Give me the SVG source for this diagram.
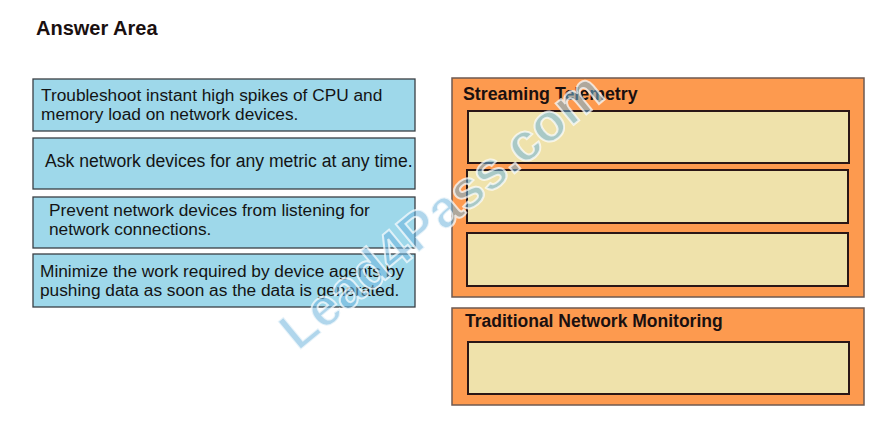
<svg xmlns="http://www.w3.org/2000/svg" width="894" height="429" viewBox="0 0 894 429">
<style>
.bg{fill:#ffffff}
.item{fill:#9ed8ea;stroke:#3a3f44;stroke-width:1.3}
.group{fill:#fd9a4f;stroke:#6e5a52;stroke-width:1.5}
.slot{fill:#efe2ab;stroke:#2a1616;stroke-width:2}
.t{font-family:"Liberation Sans",Arial,sans-serif;font-size:17.3px;fill:#141414}
.h{font-family:"Liberation Sans",Arial,sans-serif;font-size:17.8px;font-weight:bold;fill:#1a1010}
.wm{font-family:"Liberation Sans",Arial,sans-serif;font-size:53px;font-weight:bold;fill:#6fb4dc;fill-opacity:0.55;stroke:#ffffff;stroke-width:2;stroke-opacity:0.7}
</style>
<rect class="bg" x="0" y="0" width="894" height="429"/>
<text class="h" x="36" y="35" style="font-size:20px">Answer Area</text>

<g id="item1">
<rect class="item" x="33" y="79" width="382" height="52"/>
<text class="t" x="41" y="101">Troubleshoot instant high spikes of CPU and</text>
<text class="t" x="41" y="120">memory load on network devices.</text>
</g>
<g id="item2">
<rect class="item" x="33" y="138" width="382" height="51"/>
<text class="t" x="45" y="167" style="font-size:17.6px">Ask network devices for any metric at any time.</text>
</g>
<g id="item3">
<rect class="item" x="33" y="197" width="382" height="51"/>
<text class="t" x="49" y="216">Prevent network devices from listening for</text>
<text class="t" x="49" y="235">network connections.</text>
</g>
<g id="item4">
<rect class="item" x="33" y="254" width="382" height="53"/>
<text class="t" x="40" y="277">Minimize the work required by device agents by</text>
<text class="t" x="40" y="296">pushing data as soon as the data is generated.</text>
</g>

<g id="streaming">
<rect class="group" x="452" y="78" width="412" height="219"/>
<text class="h" x="463" y="100">Streaming Telemetry</text>
<rect class="slot" x="468" y="111" width="381" height="52"/>
<rect class="slot" x="467" y="170" width="381" height="53"/>
<rect class="slot" x="467" y="233" width="381" height="53"/>
</g>

<g id="traditional">
<rect class="group" x="452" y="308" width="412" height="97"/>
<text class="h" x="465" y="327" style="font-size:17.5px">Traditional Network Monitoring</text>
<rect class="slot" x="468" y="342" width="381" height="52"/>
</g>

<g id="connectors"></g>

<text class="wm" x="0" y="0" transform="translate(298,352) rotate(-39.5)">Lead4Pass.com</text>
</svg>
